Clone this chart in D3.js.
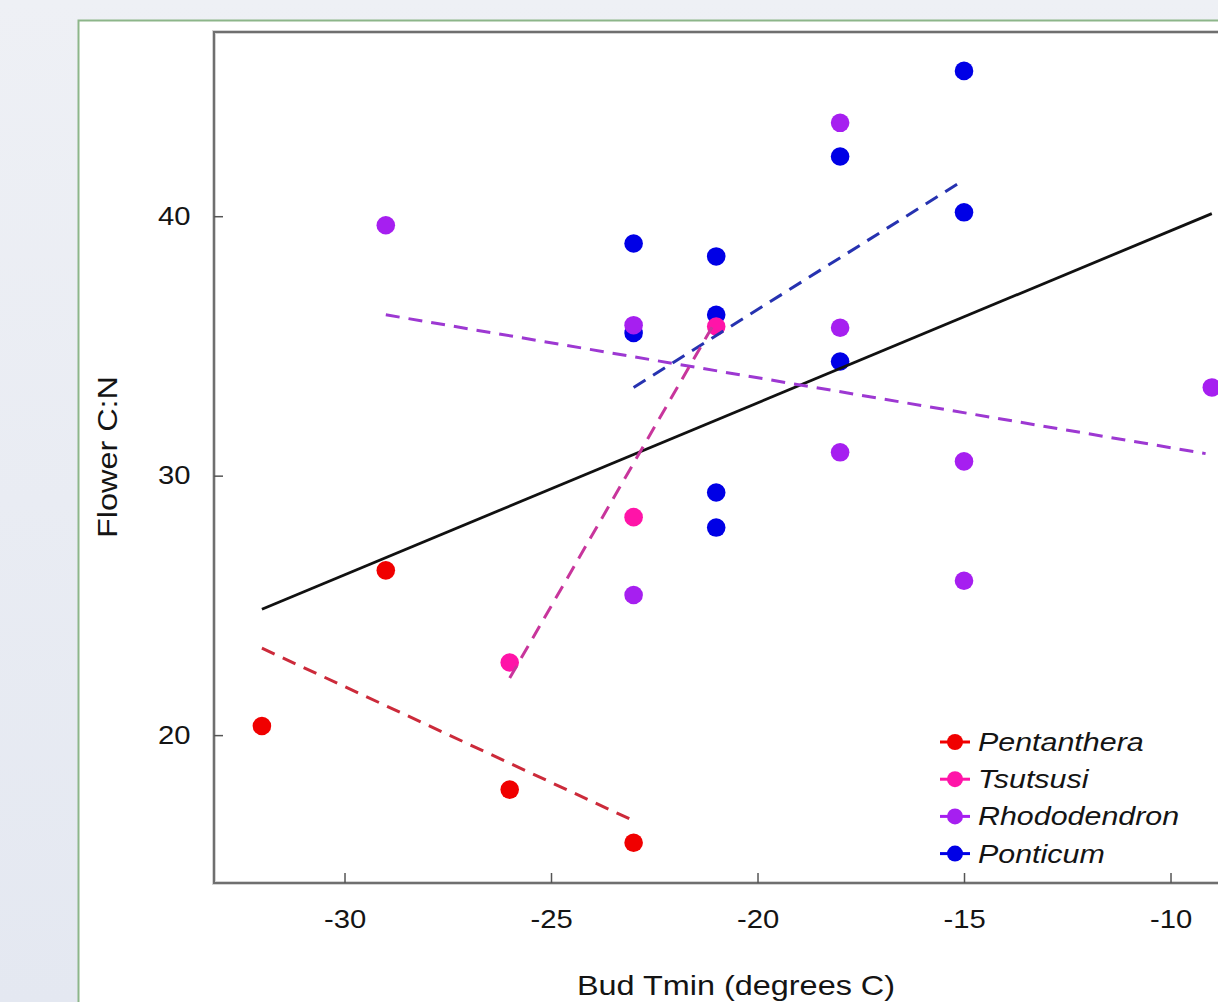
<!DOCTYPE html>
<html>
<head>
<meta charset="utf-8">
<script src="https://cdn.jsdelivr.net/npm/d3@7"></script>
<style>
  html, body { margin: 0; padding: 0; }
  body { width: 1218px; height: 1002px; overflow: hidden; background: #eceef4; }
  text { font-family: "Liberation Sans", Arial, sans-serif; fill: #141414; }
</style>
</head>
<body>
<div id="chart"></div>
<script>
// species in drawing order (bottom layer first)
var species = ['Ponticum', 'Rhododendron', 'Tsutsusi', 'Pentanthera']
var legendOrder = ['Pentanthera', 'Tsutsusi', 'Rhododendron', 'Ponticum']

// Bud Tmin (x) and Flower C:N (y) per species
var ponticumX = [-15, -18, -15, -23, -21, -21, -23, -18, -21, -21]
var ponticumY = [45.6, 42.3, 40.15, 38.95, 38.45, 36.2, 35.5, 34.4, 29.35, 28.0]
var rhododendronX = [-29, -23, -23, -18, -18, -18, -15, -15, -9]
var rhododendronY = [39.65, 35.8, 25.4, 43.6, 35.7, 30.9, 30.55, 25.95, 33.4]
var tsutsusiX = [-26, -23, -21]
var tsutsusiY = [22.8, 28.4, 35.75]
var pentantheraX = [-32, -29, -26, -23]
var pentantheraY = [20.35, 26.35, 17.9, 15.85]

// fitted lines, start and end
var allFitX = [-32, -9]
var allFitY = [24.85, 40.1]
var ponticumFitX = [-23, -15]
var ponticumFitY = [33.4, 41.4]
var rhododendronFitX = [-29, -9.15]
var rhododendronFitY = [36.2, 30.85]
var tsutsusiFitX = [-26, -21]
var tsutsusiFitY = [22.2, 36.0]
var pentantheraFitX = [-32, -23]
var pentantheraFitY = [23.35, 16.7]

var xTicks = [-30, -25, -20, -15, -10]
var yTicks = [20, 30, 40]

var pointColor = {Pentanthera: '#f00000', Tsutsusi: '#ff14a8', Rhododendron: '#a61ff0', Ponticum: '#0000e6'}
var lineColor = {Pentanthera: '#cc2a3a', Tsutsusi: '#c8359c', Rhododendron: '#9d38d2', Ponticum: '#2632b0'}

var pts = {
  Ponticum: d3.zip(ponticumX, ponticumY),
  Rhododendron: d3.zip(rhododendronX, rhododendronY),
  Tsutsusi: d3.zip(tsutsusiX, tsutsusiY),
  Pentanthera: d3.zip(pentantheraX, pentantheraY)
}
var fits = {
  Ponticum: d3.zip(ponticumFitX, ponticumFitY),
  Rhododendron: d3.zip(rhododendronFitX, rhododendronFitY),
  Tsutsusi: d3.zip(tsutsusiFitX, tsutsusiFitY),
  Pentanthera: d3.zip(pentantheraFitX, pentantheraFitY)
}

var W = 1218, H = 1002
var plotLeft = 214, plotTop = 32, plotBottom = 883
var stretch = 1.17

var svg = d3.select('#chart')
    .append('svg')
    .attr('width', W)
    .attr('height', H)

var defs = svg.append('defs')
var grad = defs.append('linearGradient')
    .attr('id', 'bg')
    .attr('x1', 0).attr('y1', 0).attr('x2', 0).attr('y2', 1)
grad.append('stop').attr('offset', '0%').attr('stop-color', '#eef0f5')
grad.append('stop').attr('offset', '100%').attr('stop-color', '#e4e8f1')

svg.append('rect')
    .attr('width', W).attr('height', H)
    .attr('fill', 'url(#bg)')

// white card with green border
svg.append('rect')
    .attr('x', 78.5).attr('y', 20.5)
    .attr('width', W + 20).attr('height', H + 20)
    .attr('fill', '#fff')
    .attr('stroke', '#8db68a')
    .attr('stroke-width', 2)

var x = d3.scaleLinear().domain([-33.16, -3]).range([plotLeft, plotLeft + 30.16 * 41.3])
var y = d3.scaleLinear().domain([14.3, 47.1]).range([plotBottom, plotTop])

// plot frame
svg.append('rect')
    .attr('x', plotLeft).attr('y', plotTop)
    .attr('width', 1400).attr('height', plotBottom - plotTop)
    .attr('fill', 'none')
    .attr('stroke', '#d4d4d4')
    .attr('stroke-width', 4)
svg.append('rect')
    .attr('x', plotLeft).attr('y', plotTop)
    .attr('width', 1400).attr('height', plotBottom - plotTop)
    .attr('fill', 'none')
    .attr('stroke', '#6f6f6f')
    .attr('stroke-width', 2)

var xAxis = svg.append('g')
    .attr('transform', 'translate(0,' + plotBottom + ')')
    .call(d3.axisBottom(x).tickValues(xTicks).tickSize(-10).tickPadding(27).tickFormat(d3.format('d')))
xAxis.select('.domain').remove()
xAxis.selectAll('line').attr('stroke', '#555').attr('stroke-width', 1.5)
xAxis.selectAll('text')
    .attr('font-size', 25)
    .attr('fill', '#141414')
    .attr('font-family', '"Liberation Sans", Arial, sans-serif')
    .attr('transform', 'scale(' + stretch + ',1)')
    .text(function(d){ return '-' + Math.abs(d) })

var yAxis = svg.append('g')
    .attr('transform', 'translate(' + plotLeft + ',0)')
    .call(d3.axisLeft(y).tickValues(yTicks).tickSize(-9).tickPadding(20))
yAxis.select('.domain').remove()
yAxis.selectAll('line').attr('stroke', '#555').attr('stroke-width', 1.5)
yAxis.selectAll('text')
    .attr('font-size', 25)
    .attr('fill', '#141414')
    .attr('font-family', '"Liberation Sans", Arial, sans-serif')
    .attr('transform', 'scale(' + stretch + ',1)')

// axis titles
svg.append('text')
    .attr('transform', 'translate(736,995) scale(1.2,1)')
    .attr('text-anchor', 'middle')
    .attr('font-size', 27)
    .text('Bud Tmin (degrees C)')

svg.append('text')
    .attr('transform', 'translate(117,457) rotate(-90) scale(1.2,1)')
    .attr('text-anchor', 'middle')
    .attr('font-size', 27)
    .text('Flower C:N')

var plot = svg.append('g')

species.forEach(function(s){
  plot.selectAll(null)
      .data(pts[s])
      .enter()
      .append('circle')
      .attr('cx', function(d){ return x(d[0]) })
      .attr('cy', function(d){ return y(d[1]) })
      .attr('r', 9.3)
      .attr('fill', pointColor[s])
})

var line = d3.line()
    .x(function(d){ return x(d[0]) })
    .y(function(d){ return y(d[1]) })

plot.append('path')
    .datum(d3.zip(allFitX, allFitY))
    .attr('d', line)
    .attr('fill', 'none')
    .attr('stroke', '#111')
    .attr('stroke-width', 2.8)

species.forEach(function(s){
  plot.append('path')
      .datum(fits[s])
      .attr('d', line)
      .attr('fill', 'none')
      .attr('stroke', lineColor[s])
      .attr('stroke-width', 3)
      .attr('stroke-dasharray', '14,9')
})

// legend
var legend = svg.append('g')
var rows = legend.selectAll('g')
    .data(legendOrder)
    .enter()
    .append('g')
    .attr('transform', function(d, i){ return 'translate(955,' + (742 + i * 37.2) + ')' })
rows.append('line')
    .attr('x1', -15).attr('x2', 15)
    .attr('stroke', function(d){ return pointColor[d] })
    .attr('stroke-width', 3)
rows.append('circle')
    .attr('r', 8)
    .attr('fill', function(d){ return pointColor[d] })
rows.append('text')
    .attr('transform', 'translate(23,9) scale(' + stretch + ',1)')
    .attr('font-size', 26)
    .attr('font-style', 'italic')
    .text(function(d){ return d })
</script>
</body>
</html>
